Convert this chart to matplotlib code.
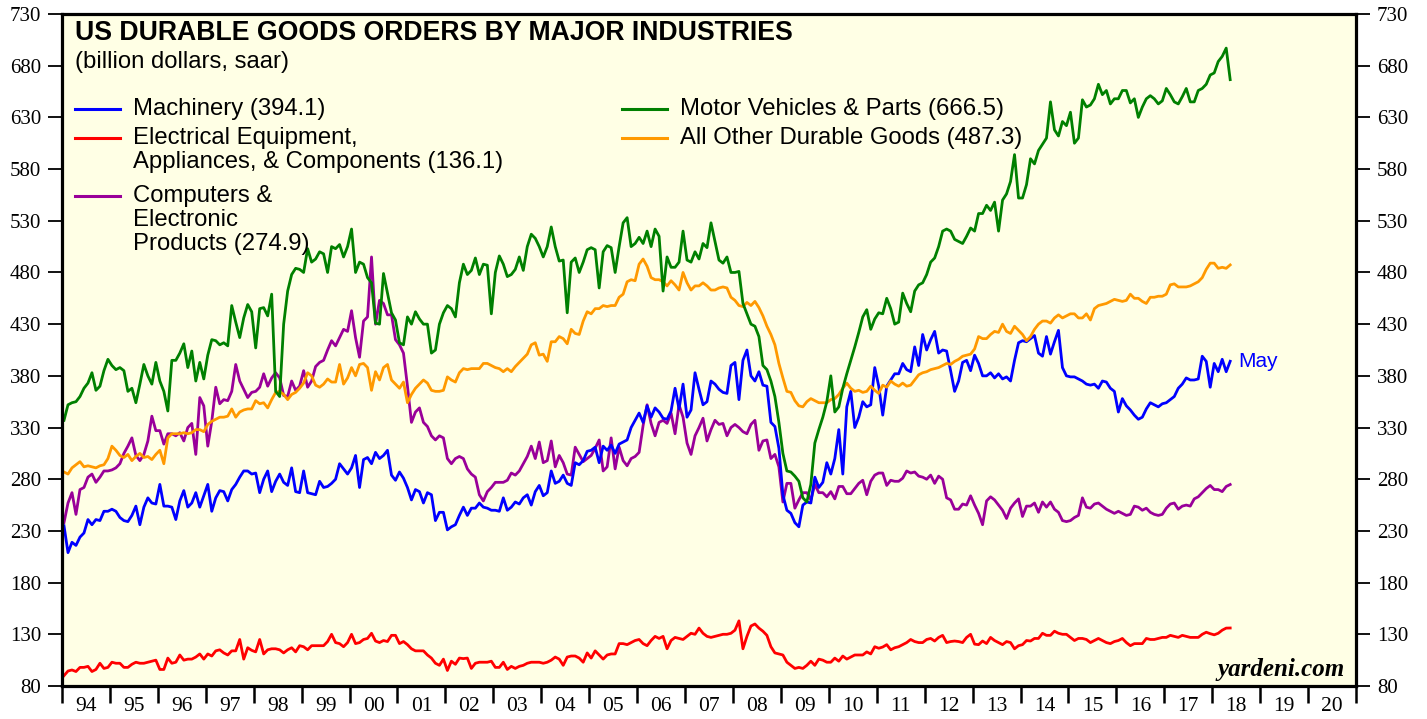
import numpy as np
import pandas as pd
import matplotlib
matplotlib.use("Agg")
import matplotlib.pyplot as plt
from matplotlib.ticker import FixedLocator, NullFormatter, FixedFormatter

# monthly orders, billion dollars saar, Jan 1994 - May 2018
machinery = [
    235, 209, 219, 216, 224, 228, 241, 236, 241, 240, 249, 249,  # 1994
    251, 249, 243, 240, 239, 245, 254, 236, 253, 262, 257, 256,  # 1995
    275, 254, 254, 253, 241, 259, 269, 253, 257, 267, 253, 264,  # 1996
    275, 249, 262, 269, 268, 259, 270, 275, 282, 288, 288, 285,  # 1997
    286, 267, 280, 288, 268, 278, 285, 277, 274, 291, 268, 267,  # 1998
    288, 267, 266, 265, 278, 272, 273, 276, 280, 295, 290, 285,  # 1999
    291, 303, 272, 299, 301, 295, 306, 300, 303, 308, 284, 279,  # 2000
    287, 281, 272, 260, 270, 268, 257, 267, 265, 240, 248, 248,  # 2001
    231, 234, 236, 245, 253, 245, 252, 252, 257, 253, 252, 250,  # 2002
    250, 249, 262, 250, 253, 258, 256, 262, 265, 255, 268, 274,  # 2003
    264, 267, 288, 276, 278, 284, 276, 274, 296, 294, 298, 307,  # 2004
    308, 311, 296, 312, 308, 313, 305, 314, 316, 318, 330, 337,  # 2005
    344, 335, 351, 340, 349, 345, 339, 338, 346, 368, 348, 372,  # 2006
    340, 347, 383, 367, 352, 355, 375, 372, 367, 364, 363, 390,  # 2007
    393, 357, 395, 405, 380, 375, 384, 371, 370, 335, 331, 310,  # 2008
    265, 250, 247, 238, 234, 255, 258, 257, 282, 272, 277, 296,  # 2009
    285, 300, 328, 285, 350, 365, 330, 340, 355, 350, 352, 388,  # 2010
    370, 342, 370, 376, 382, 382, 392, 386, 384, 408, 390, 420,  # 2011
    405, 415, 423, 402, 405, 404, 385, 365, 375, 393, 395, 385,  # 2012
    400, 392, 380, 380, 383, 378, 382, 377, 379, 375, 395, 412,  # 2013
    414, 413, 416, 419, 402, 399, 418, 401, 413, 424, 388, 380,  # 2014
    379, 379, 377, 375, 372, 371, 372, 368, 375, 374, 368, 365,  # 2015
    345, 358, 351, 347, 342, 338, 340, 348, 354, 352, 350, 353,  # 2016
    354, 357, 360, 368, 372, 378, 376, 376, 377, 399, 394, 369,  # 2017
    392, 384, 396, 384, 394.1,                                   # 2018
]

electrical = [
    90, 94.5, 95.5, 94, 98, 98, 99, 94, 96, 102, 97, 98,
    103, 102, 102, 98, 98, 101, 103, 102, 102, 103, 104, 105,
    96, 96, 107, 102, 103, 110, 105, 106, 106, 108, 111, 106,
    111, 109, 114, 115, 112, 110, 114, 114, 125, 106, 117, 114.5,
    113, 125, 111, 115, 116, 116, 115, 112, 115, 117, 113, 119,
    118, 115, 119, 119, 119, 119, 123, 130, 122, 121, 118, 122,
    130, 121, 122, 125, 126, 131, 123.5, 122, 124, 123, 129, 129,
    121, 123, 120, 116, 114, 114, 114, 110, 107, 102, 100, 106,
    95, 104, 101, 107, 106.5, 107, 97, 102, 103, 103, 103, 104,
    98, 98, 103, 96, 99, 97, 99, 100, 102, 103, 103, 103,
    102, 103, 105, 108, 106, 100, 108, 109, 109, 107, 103, 112,
    107, 114, 110, 106, 110, 111, 111, 121, 121, 120, 122, 124,
    125, 121, 119, 124, 128, 126, 128, 116, 124, 127, 126, 125,
    128, 131, 130, 136, 131, 128, 127, 128, 129, 130, 130, 131,
    134, 143, 116, 128, 138, 140, 136, 133, 129, 118, 112, 111,
    110, 103, 100, 97, 98, 97, 100, 104, 100, 106, 105, 103,
    103, 107, 104, 109, 106, 108, 110, 110, 110, 113, 111, 118,
    116.5, 117.7, 120, 115, 117, 118, 120, 122, 125, 123, 122, 122,
    125, 126, 123.5, 127, 129, 122, 123, 123.5, 123, 122, 127, 130,
    120.5, 120, 123.5, 121, 127, 124, 122, 120, 123, 122, 116, 119,
    120, 124, 123.5, 126, 126, 131, 129, 129, 133, 131, 130, 130,
    127, 124, 126, 126, 125, 122, 124, 126, 124, 122, 121, 123,
    124, 126, 122, 119, 121, 121, 121, 126, 125, 125, 126, 127,
    127, 129, 128, 127, 129, 128, 127, 127, 127, 130, 132, 130.6,
    129.5, 131, 134, 136, 136.1,
]

computers = [
    238, 257, 267, 246, 270, 272, 282, 285, 277, 282, 288, 288,
    289, 291, 295, 305, 312, 320, 303, 298, 304, 317, 341, 327,
    327, 314, 324, 324, 322, 325, 317, 330, 334, 304, 359, 351,
    312, 336, 369, 353, 357, 356, 365, 391, 375, 367, 359, 364,
    365, 369, 382, 370, 378, 383, 378, 361, 360, 375, 366, 370,
    385, 369, 375, 389, 393, 395, 405, 414, 409, 417, 425, 423,
    443, 417, 398, 433, 437, 495, 430, 453, 450, 439, 439, 415,
    410, 402, 370, 335, 345, 349, 335, 331, 322, 318, 322, 320,
    300, 295, 300, 302, 300, 290, 285, 282, 265, 259, 268, 272,
    277, 277, 277, 279, 286, 284, 288, 295, 302, 312, 300, 316,
    296, 298, 317, 292, 303, 296, 285, 284, 311, 304, 297, 300,
    303, 310, 318, 288, 292, 320, 290, 311, 298, 293, 300, 302,
    306, 332, 352, 334, 322, 335, 337, 334, 344, 324, 352, 340,
    315, 304, 322, 330, 339, 317, 328, 337, 333, 334, 322, 330,
    333, 330, 326, 324, 333, 337, 308, 317, 318, 300, 304, 292,
    258, 276, 276, 252, 260, 267, 267, 260, 275, 267, 267, 263,
    268, 261, 273, 273, 266, 266, 271, 276, 279, 265, 278, 284,
    286, 286, 274, 279, 278, 278, 281, 288, 286, 287, 283, 282,
    280, 284, 276, 283, 280, 262, 260, 251, 251, 256, 255, 264,
    255, 247, 236, 259, 263, 260, 255, 250, 242, 252, 257, 261,
    244, 254, 254, 257, 248, 258, 253, 258, 251, 248, 240, 239,
    240, 243, 245, 262, 253, 252, 256, 257, 254, 251, 249, 247,
    249, 247, 245, 246, 254, 253, 250, 252, 248, 246, 245, 246,
    252, 256, 257, 251, 254, 255, 254, 261, 263, 267, 271, 274,
    270, 270, 268, 273, 274.9,
]

motor_vehicles = [
    337, 352, 354, 355, 360, 368, 373, 383, 366, 370, 385, 396,
    390, 386, 388, 385, 365, 368, 354, 372, 391, 380, 372, 393,
    375, 365, 346, 395, 395, 402, 411, 388, 404, 375, 393, 377,
    400, 415, 414, 410, 412, 409, 448, 432, 417, 436, 449, 442,
    407, 445, 446, 438, 459, 365, 360, 430, 462, 478, 484, 483,
    480, 503, 490, 493, 500, 498, 480, 505, 503, 507, 495, 505,
    522, 480, 490, 488, 475, 470, 431, 430, 479, 460, 441, 434,
    412, 410, 437, 430, 442, 435, 430, 430, 402, 405, 430, 441,
    448, 445, 437, 470, 488, 478, 482, 494, 478, 488, 487, 440,
    480, 496, 488, 476, 478, 483, 495, 482, 505, 517, 513, 505,
    495, 505, 524, 505, 491, 492, 441, 490, 494, 480, 490, 502,
    504, 502, 465, 500, 506, 504, 480, 505, 528, 533, 505, 508,
    514, 508, 520, 505, 522, 515, 462, 495, 485, 485, 490, 520,
    492, 490, 500, 493, 508, 504, 528, 510, 492, 489, 495, 480,
    480, 481, 450, 440, 430, 428, 418, 390, 386, 375, 360, 335,
    305, 288, 287, 283, 278, 262, 258, 275, 315, 328, 340, 355,
    380, 345, 350, 368, 382, 395, 408, 422, 437, 444, 425, 435,
    441, 440, 455, 445, 430, 432, 460, 450, 442, 462, 468, 470,
    478, 490, 494, 505, 520, 522, 520, 512, 510, 508, 515, 523,
    520, 537, 537, 545, 540, 548, 520, 550, 556, 568, 594, 552,
    552, 565, 590, 585, 598, 604, 610, 645, 618, 612, 626, 622,
    635, 605, 610, 647, 640, 642, 648, 662, 652, 656, 643, 648,
    648, 656, 656, 644, 648, 630, 640, 648, 651, 648, 643, 646,
    658, 652, 645, 643, 650, 658, 645, 645, 656, 658, 662, 671,
    673, 684, 689, 697, 666.5,
]

all_other = [
    287, 285, 291, 294, 297, 292, 293, 292, 291, 293, 294, 300,
    312, 308, 303, 301, 304, 298, 302, 305, 301, 302, 299, 304,
    308, 295, 320, 324, 324, 324, 325, 324, 325, 328, 328, 326,
    333, 336, 338, 340, 340, 341, 348, 340, 345, 347, 348, 348,
    356, 353, 354, 349, 357, 364, 365, 362, 357, 362, 364, 368,
    373, 383, 380, 371, 369, 372, 377, 374, 374, 391, 372, 378,
    388, 380, 391, 392, 388, 366, 384, 376, 388, 391, 376, 372,
    368, 374, 354, 362, 368, 372, 376, 373, 366, 365, 365, 366,
    379, 376, 374, 383, 387, 386, 387, 387, 387, 392, 392, 390,
    388, 387, 384, 387, 384, 389, 393, 397, 401, 410, 412, 400,
    401, 394, 413, 413, 418, 416, 411, 425, 421, 420, 433, 442,
    440, 445, 445, 448, 447, 448, 448, 456, 459, 471, 473, 472,
    488, 493, 486, 475, 473, 473, 471, 467, 472, 468, 463, 480,
    470, 463, 467, 467, 470, 467, 463, 463, 465, 466, 465, 456,
    453, 448, 447, 451, 448, 452, 446, 438, 428, 420, 410, 392,
    378, 365, 364, 356, 351, 350, 355, 358, 356, 354, 354, 354,
    357, 358, 362, 368, 373, 368, 365, 366, 364, 365, 370, 366,
    363, 371, 369, 375, 372, 370, 373, 370, 371, 376, 381, 383,
    384, 386, 387, 388, 390, 392, 391, 394, 396, 399, 400, 401,
    406, 418, 416, 416, 420, 423, 422, 430, 423, 421, 428, 424,
    420, 414, 418, 425, 430, 433, 433, 431, 436, 439, 436, 438,
    440, 440, 436, 436, 440, 434, 445, 448, 449, 450, 452, 454,
    453, 452, 453, 459, 455, 455, 452, 450, 456, 456, 457, 457,
    459, 468, 469, 466, 466, 466, 467, 469, 471, 475, 483, 489,
    489, 484, 485, 484, 487.3,
]

year_labels = ["94", "95", "96", "97", "98", "99", "00", "01", "02", "03", "04",
               "05", "06", "07", "08", "09", "10", "11", "12", "13", "14", "15",
               "16", "17", "18", "19", "20"]

months = pd.date_range("1994-01-01", "2018-05-01", freq="MS")
x = months.year + (months.month - 0.5) / 12

BLUE, RED, PURPLE, GREEN, ORANGE = "#0000FF", "#FF0000", "#990099", "#008000", "#FF9900"

fig = plt.figure(figsize=(14.27, 7.19), dpi=100)
ax = fig.add_axes([62 / 1427, 33 / 719, 1294 / 1427, 672 / 719])
ax.set_facecolor("#FFFFE5")

lw = 2.0
ax.plot(x, electrical, color=RED, lw=lw)
ax.plot(x, computers, color=PURPLE, lw=lw)
ax.plot(x, machinery, color=BLUE, lw=lw)
ax.plot(x, all_other, color=ORANGE, lw=lw)
ax.plot(x, motor_vehicles, color=GREEN, lw=lw)

ax.set_xlim(1994, 2021)
ax.set_ylim(80, 730)

# axes styling
for s in ax.spines.values():
    s.set_linewidth(2.3)
ax.yaxis.set_major_locator(FixedLocator(np.arange(80, 731, 50)))
ax.tick_params(axis="y", which="major", direction="out", length=10, width=1.3,
               left=True, right=True, labelleft=True, labelright=True,
               labelsize=15, pad=5)
ax.xaxis.set_major_locator(FixedLocator(np.arange(1994, 2022)))
ax.xaxis.set_major_formatter(NullFormatter())
ax.xaxis.set_minor_locator(FixedLocator(np.arange(1994.5, 2021, 1.0)))
ax.xaxis.set_minor_formatter(FixedFormatter(year_labels))
ax.tick_params(axis="x", which="major", direction="out", length=12, width=1.8)
ax.tick_params(axis="x", which="minor", length=0, labelsize=15.5, pad=8)
for lab in ax.get_xticklabels(minor=True) + ax.get_yticklabels():
    lab.set_fontfamily("Liberation Serif")

# title block
sans = "Liberation Sans"
ax.text(0.010, 0.971, "US DURABLE GOODS ORDERS BY MAJOR INDUSTRIES", transform=ax.transAxes,
        fontsize=19.2, fontweight="bold", family=sans, va="center", ha="left")
ax.text(0.010, 0.928, "(billion dollars, saar)", transform=ax.transAxes,
        fontsize=17.2, family=sans, va="center", ha="left")

# legend
def legend_entry(xl, yl, color, lines):
    ax.plot([xl, xl + 0.035], [yl, yl], color=color, lw=2.2, transform=ax.transAxes,
            clip_on=False)
    for k, t in enumerate(lines):
        ax.text(xl + 0.0449, yl - k * 0.0357, t, transform=ax.transAxes,
                fontsize=17.2, family=sans, va="center", ha="left")

legend_entry(0.010, 0.8586, BLUE, ["Machinery (394.1)"])
legend_entry(0.010, 0.8155, RED, ["Electrical Equipment,", "Appliances, & Components (136.1)"])
legend_entry(0.010, 0.7292, PURPLE, ["Computers &", "Electronic", "Products (274.9)"])
legend_entry(0.4327, 0.8586, GREEN, ["Motor Vehicles & Parts (666.5)"])
legend_entry(0.4327, 0.8155, ORANGE, ["All Other Durable Goods (487.3)"])

ax.text(2018.55, machinery[-1], "May", color=BLUE, fontsize=15, family=sans,
        va="center", ha="left")
ax.text(0.9916, 0.015, "yardeni.com", transform=ax.transAxes, fontsize=18,
        family="Liberation Serif", fontweight="bold", style="italic",
        ha="right", va="baseline")

fig.savefig("out.png", dpi=100)
